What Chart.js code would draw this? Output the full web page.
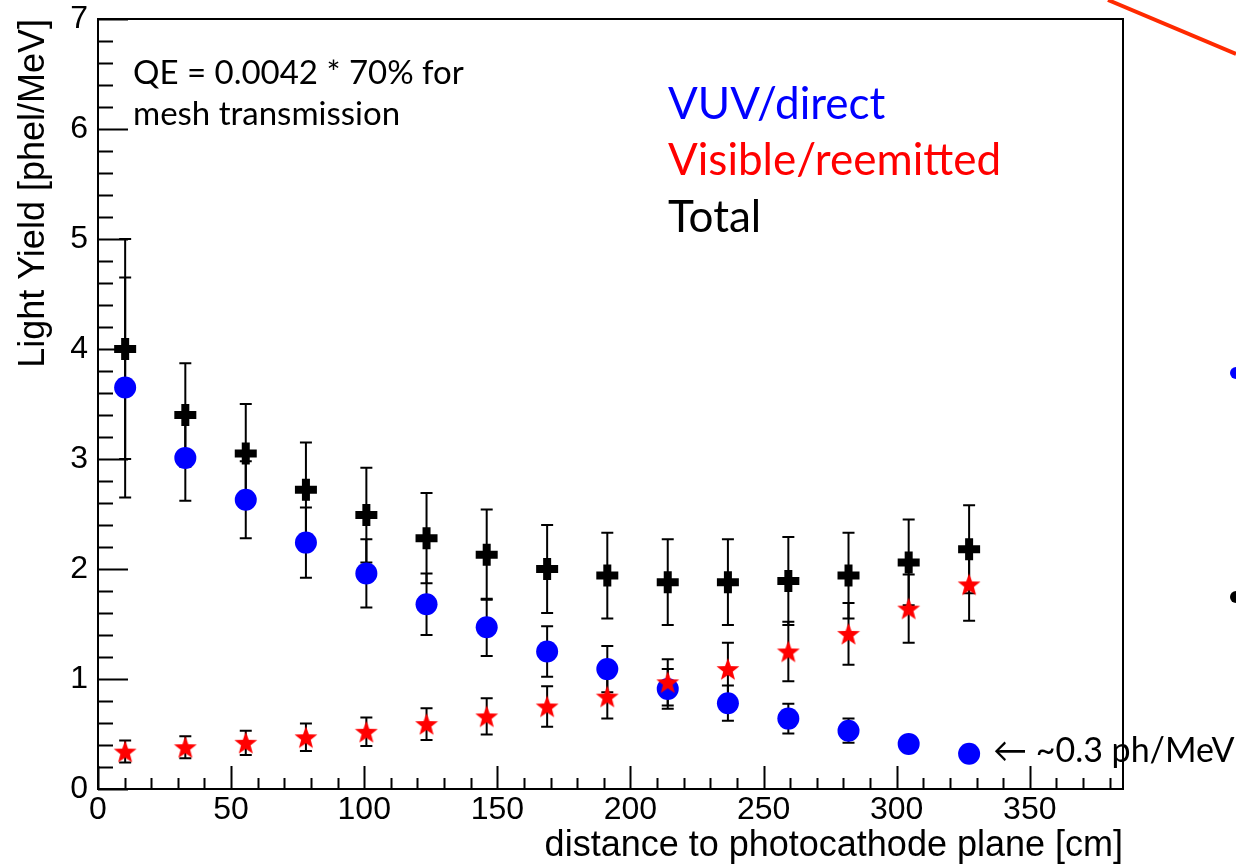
<!DOCTYPE html>
<html>
<head>
<meta charset="utf-8">
<title>Light yield vs distance</title>
<style>
  html, body { margin: 0; padding: 0; background: #fff; }
</style>
</head>
<body>
<canvas id="ly-chart" width="1236" height="865"></canvas>
<script src="https://cdn.jsdelivr.net/npm/chart.js@4/dist/chart.umd.min.js"></script>
<script>
    // distance to photocathode plane [cm]
    var distance = [10.2, 32.8, 55.5, 78.1, 100.8, 123.4, 146.0, 168.7, 191.3, 214.0, 236.6, 259.3, 281.9, 304.5, 327.2];

    // light yield [phel/MeV] and errors
    var totalLY  = [4.00, 3.40, 3.05, 2.72, 2.49, 2.28, 2.13, 2.00, 1.94, 1.88, 1.88, 1.89, 1.94, 2.06, 2.18];
    var totalErr = [1.00, 0.47, 0.45, 0.43, 0.43, 0.41, 0.41, 0.40, 0.39, 0.39, 0.39, 0.40, 0.39, 0.39, 0.40];
    var vuvLY    = [3.65, 3.01, 2.63, 2.24, 1.96, 1.68, 1.47, 1.25, 1.09, 0.91, 0.78, 0.64, 0.53, 0.41, 0.32];
    var vuvErr   = [1.00, 0.39, 0.35, 0.32, 0.31, 0.28, 0.26, 0.23, 0.21, 0.18, 0.16, 0.135, 0.11, 0.06, 0.05];
    var visLY    = [0.34, 0.38, 0.42, 0.47, 0.52, 0.59, 0.66, 0.75, 0.84, 0.97, 1.09, 1.25, 1.41, 1.64, 1.86];
    var visErr   = [0.10, 0.10, 0.11, 0.125, 0.13, 0.145, 0.165, 0.185, 0.20, 0.21, 0.24, 0.27, 0.28, 0.31, 0.33];

    var xTicks = [0, 50, 100, 150, 200, 250, 300, 350];
    var yTicks = [0, 1, 2, 3, 4, 5, 6, 7];

    var axisFont = "'Liberation Sans', Arial, sans-serif";
    var noteFont = "Lato, 'Open Sans', sans-serif";

    function toPoints(xs, ys) {
        var pts = [];
        for (var i = 0; i < xs.length; i++) pts.push({x: xs[i], y: ys[i]});
        return pts;
    }

    // filled red star marker
    function makeStar(size) {
        var c = document.createElement('canvas');
        c.width = size; c.height = size;
        var g = c.getContext('2d');
        var cx = size / 2, cy = size / 2 + 1, R = size / 2, r = R * 0.42;
        g.beginPath();
        for (var k = 0; k < 10; k++) {
            var a = -Math.PI / 2 + k * Math.PI / 5;
            var rr = (k % 2 == 0) ? R : r;
            g.lineTo(cx + rr * Math.cos(a), cy + rr * Math.sin(a));
        }
        g.closePath();
        g.fillStyle = '#ff0000';
        g.fill();
        return c;
    }

    var errorBars = {
        id: 'errorBars',
        beforeDatasetsDraw: function (chart) {
            var ctx = chart.ctx, xs = chart.scales.x, ys = chart.scales.y;
            ctx.save();
            ctx.strokeStyle = '#000';
            ctx.lineWidth = 2;
            chart.data.datasets.forEach(function (ds) {
                ds.errors.forEach(function (e, i) {
                    var px = xs.getPixelForValue(ds.data[i].x);
                    var top = ys.getPixelForValue(ds.data[i].y + e);
                    var bot = ys.getPixelForValue(ds.data[i].y - e);
                    ctx.beginPath();
                    ctx.moveTo(px, top); ctx.lineTo(px, bot);
                    ctx.moveTo(px - 6, top); ctx.lineTo(px + 6, top);
                    ctx.moveTo(px - 6, bot); ctx.lineTo(px + 6, bot);
                    ctx.stroke();
                });
            });
            ctx.restore();
        }
    };

    var frameAndTicks = {
        id: 'frameAndTicks',
        afterDraw: function (chart) {
            var ctx = chart.ctx, a = chart.chartArea, xs = chart.scales.x, ys = chart.scales.y;
            ctx.save();
            ctx.strokeStyle = '#000';
            ctx.lineWidth = 2;
            ctx.strokeRect(a.left, a.top, a.right - a.left, a.bottom - a.top);
            ctx.beginPath();
            for (var v = 0; v <= 7.001; v += 0.2) {
                var py = Math.round(ys.getPixelForValue(v)) + 0.5;
                var major = Math.abs(v - Math.round(v)) < 0.01;
                ctx.moveTo(a.left, py); ctx.lineTo(a.left + (major ? 30 : 15), py);
            }
            for (var d = 0; d <= 380; d += 10) {
                var px = Math.round(xs.getPixelForValue(d)) + 0.5;
                ctx.moveTo(px, a.bottom); ctx.lineTo(px, a.bottom - (d % 50 == 0 ? 23 : 11));
            }
            ctx.stroke();

            // text notes
            ctx.textBaseline = 'middle';
            ctx.textAlign = 'left';
            ctx.fillStyle = '#000';
            ctx.font = "33px " + noteFont;
            ctx.fillText('QE = 0.0042 * 70% for', 133, 73);
            ctx.fillText('mesh transmission', 133, 114);
            ctx.font = "44px " + noteFont;
            ctx.fillStyle = '#0000ff';
            ctx.fillText('VUV/direct', 668, 105);
            ctx.fillStyle = '#ff0000';
            ctx.fillText('Visible/reemitted', 668, 161);
            ctx.fillStyle = '#000';
            ctx.fillText('Total', 668, 218);
            ctx.font = "34px " + noteFont;
            ctx.fillText('\u2190 ~0.3 ph/MeV', 993, 751);

            // slide leftovers on the right
            ctx.strokeStyle = '#ff2a00';
            ctx.lineWidth = 4;
            ctx.beginPath();
            ctx.moveTo(1108, 0); ctx.lineTo(1236, 54);
            ctx.stroke();
            ctx.fillStyle = '#0000ff';
            ctx.beginPath(); ctx.arc(1236, 373, 6, 0, 2 * Math.PI); ctx.fill();
            ctx.fillStyle = '#000';
            ctx.beginPath(); ctx.arc(1236, 597, 6, 0, 2 * Math.PI); ctx.fill();
            ctx.restore();
        }
    };

    var ctx = document.getElementById('ly-chart').getContext('2d');
    new Chart(ctx, {
        type: 'scatter',
        data: {
            datasets: [
                {
                    label: 'Visible/reemitted',
                    data: toPoints(distance, visLY),
                    errors: visErr,
                    pointStyle: makeStar(24),
                    order: 0
                },
                {
                    label: 'VUV/direct',
                    data: toPoints(distance, vuvLY),
                    errors: vuvErr,
                    pointStyle: 'circle',
                    pointRadius: 11,
                    backgroundColor: '#0000ff',
                    borderWidth: 0,
                    order: 1
                },
                {
                    label: 'Total',
                    data: toPoints(distance, totalLY),
                    errors: totalErr,
                    pointStyle: 'cross',
                    pointRadius: 11,
                    borderColor: '#000',
                    borderWidth: 8,
                    order: 2
                }
            ]
        },
        options: {
            responsive: false,
            animation: false,
            devicePixelRatio: 1,
            layout: {padding: {top: 18, right: 113, left: 0, bottom: 0}},
            plugins: {legend: {display: false}, tooltip: {enabled: false}},
            elements: {point: {hoverRadius: 11}},
            scales: {
                x: {
                    type: 'linear',
                    min: 0,
                    max: 385,
                    grid: {display: false, drawTicks: false},
                    border: {display: false},
                    afterBuildTicks: function (s) { s.ticks = xTicks.map(function (v) { return {value: v}; }); },
                    afterFit: function (s) { s.height = 76; s.paddingLeft = 0; s.paddingRight = 0; },
                    ticks: {
                        color: '#000', padding: 2, maxRotation: 0, autoSkip: false,
                        font: {family: axisFont, size: 32}
                    },
                    title: {
                        display: true, text: 'distance to photocathode plane [cm]', align: 'end',
                        color: '#000', font: {family: axisFont, size: 36}, padding: {top: 0, bottom: -3}
                    }
                },
                y: {
                    type: 'linear',
                    min: 0,
                    max: 7,
                    grid: {display: false, drawTicks: false},
                    border: {display: false},
                    afterBuildTicks: function (s) { s.ticks = yTicks.map(function (v) { return {value: v}; }); },
                    afterFit: function (s) { s.width = 98; s.paddingTop = 0; s.paddingBottom = 0; },
                    ticks: {
                        color: '#000', padding: 10,
                        font: {family: axisFont, size: 32}
                    },
                    title: {
                        display: true, text: 'Light Yield [phel/MeV]', align: 'end',
                        color: '#000', font: {family: axisFont, size: 36}, padding: {top: 12, bottom: 0}
                    }
                }
            }
        },
        plugins: [errorBars, frameAndTicks]
    });
</script>
</body>
</html>
